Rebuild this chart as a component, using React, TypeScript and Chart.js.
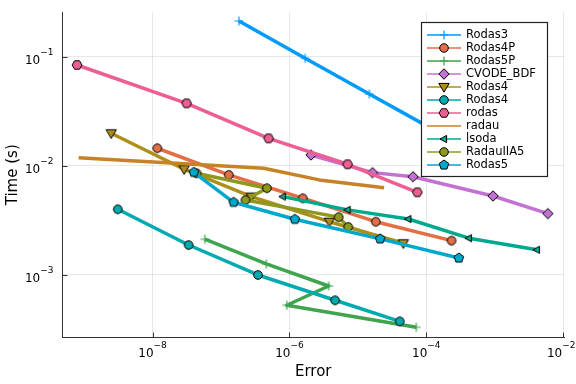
import React, { useEffect, useRef } from 'react';
import { Chart, registerables } from 'chart.js';

Chart.register(...registerables);

// ---------- data ----------
const seriesNames = ['Rodas3', 'Rodas4P', 'Rodas5P', 'CVODE_BDF', 'Rodas4', 'Rodas4', 'rodas', 'radau', 'lsoda', 'RadauIIA5', 'Rodas5'];

const rodas3Error = [1.83e-7, 1.70e-6, 1.47e-5, 1.29e-4];
const rodas3Time = [0.2126, 0.0967, 0.0455, 0.0213];
const rodas4pError = [1.175e-8, 1.30e-7, 1.57e-6, 1.83e-5, 2.34e-4];
const rodas4pTime = [0.01445, 0.00822, 0.00502, 0.00306, 0.00205];
const rodas5pError = [5.81e-8, 4.59e-7, 3.75e-6, 9.16e-7, 7.14e-5];
const rodas5pTime = [0.002113, 0.001253, 0.000787, 0.000524, 0.000329];
const cvodeError = [2.07e-6, 1.64e-5, 6.40e-5, 9.44e-4, 5.97e-3];
const cvodeTime = [0.01253, 0.00863, 0.00792, 0.00527, 0.00363];
const rodas4TriError = [2.49e-9, 2.90e-8, 2.78e-7, 3.84e-6, 4.62e-5];
const rodas4TriTime = [0.01982, 0.00927, 0.00520, 0.00306, 0.00194];
const rodas4CircError = [3.11e-9, 3.37e-8, 3.47e-7, 4.65e-6, 4.10e-5];
const rodas4CircTime = [0.00398, 0.00187, 0.000993, 0.000582, 0.000373];
const rodasError = [7.89e-10, 3.15e-8, 4.97e-7, 7.08e-6, 7.40e-5];
const rodasTime = [0.0839, 0.0373, 0.01782, 0.01030, 0.00570];
const radauError = [8.32e-10, 4.20e-7, 2.74e-6, 2.42e-5];
const radauTime = [0.01183, 0.00946, 0.00740, 0.00628];
const lsodaError = [8.02e-7, 7.08e-6, 5.47e-5, 4.19e-4, 4.13e-3];
const lsodaTime = [0.00520, 0.00393, 0.00324, 0.00216, 0.00169];
const radauIIA5Error = [4.40e-8, 4.69e-7, 2.28e-7, 5.24e-6, 7.24e-6];
const radauIIA5Time = [0.00851, 0.00621, 0.00484, 0.00337, 0.00274];
const rodas5Error = [4.02e-8, 1.53e-7, 1.20e-6, 2.12e-5, 2.99e-4];
const rodas5Time = [0.00869, 0.00461, 0.00322, 0.00213, 0.00142];

const seriesErrors = [rodas3Error, rodas4pError, rodas5pError, cvodeError, rodas4TriError, rodas4CircError, rodasError, radauError, lsodaError, radauIIA5Error, rodas5Error];
const seriesTimes = [rodas3Time, rodas4pTime, rodas5pTime, cvodeTime, rodas4TriTime, rodas4CircTime, rodasTime, radauTime, lsodaTime, radauIIA5Time, rodas5Time];

const xTickValues = [1e-8, 1e-6, 1e-4, 1e-2];
const xTickExponents = ['−8', '−6', '−4', '−2'];
const yTickValues = [1e-3, 1e-2, 1e-1];
const yTickExponents = ['−3', '−2', '−1'];
const tickBase = '10';

const xMin = 4.84e-10;
const xMax = 1.028e-2;
const yMin = 2.65e-4;
const yMax = 0.257;

// ---------- styles ----------
const seriesColors = ['#009AFA', '#E36F47', '#3EA44E', '#C371D2', '#AC8E18', '#00AAAE', '#ED5E93', '#C68225', '#00A98D', '#8E971E', '#00A8CB'];
const seriesMarkers = ['cross', 'circle', 'cross', 'diamond', 'dtriangle', 'circle', 'hexagon', 'none', 'ltriangle', 'circle', 'pentagon'];

const FONT = "'DejaVu Sans', sans-serif";
const AXIS_COLOR = '#333333';

function polygon(ctx: CanvasRenderingContext2D, cx: number, cy: number, n: number, r: number, rot: number) {
  for (let k = 0; k < n; k++) {
    const a = rot + (k * 2 * Math.PI) / n;
    const px = cx + r * Math.cos(a);
    const py = cy + r * Math.sin(a);
    if (k === 0) ctx.moveTo(px, py);
    else ctx.lineTo(px, py);
  }
  ctx.closePath();
}

function drawMarker(ctx: CanvasRenderingContext2D, shape: string, color: string, x: number, y: number) {
  if (shape === 'none') return;
  ctx.save();
  ctx.lineJoin = 'miter';
  if (shape === 'cross') {
    ctx.strokeStyle = color;
    ctx.lineWidth = 1.2;
    ctx.beginPath();
    ctx.moveTo(x - 4.5, y);
    ctx.lineTo(x + 4.5, y);
    ctx.moveTo(x, y - 4.5);
    ctx.lineTo(x, y + 4.5);
    ctx.stroke();
    ctx.restore();
    return;
  }
  ctx.fillStyle = color;
  ctx.strokeStyle = '#000000';
  ctx.lineWidth = 1;
  ctx.beginPath();
  switch (shape) {
    case 'circle':
      ctx.arc(x, y, 4.3, 0, Math.PI * 2);
      break;
    case 'hexagon':
      polygon(ctx, x, y, 6, 4.9, 0);
      break;
    case 'pentagon':
      polygon(ctx, x, y, 5, 5.0, -Math.PI / 2);
      break;
    case 'diamond':
      polygon(ctx, x, y, 4, 5.2, -Math.PI / 2);
      break;
    case 'dtriangle':
      ctx.moveTo(x - 5.2, y - 3.6);
      ctx.lineTo(x + 5.2, y - 3.6);
      ctx.lineTo(x, y + 5.2);
      ctx.closePath();
      break;
    case 'ltriangle':
      ctx.moveTo(x - 4, y);
      ctx.lineTo(x + 2.6, y - 3.6);
      ctx.lineTo(x + 2.6, y + 3.6);
      ctx.closePath();
      break;
  }
  ctx.fill();
  ctx.stroke();
  ctx.restore();
}

function markerCanvas(shape: string, color: string): HTMLCanvasElement {
  const c = document.createElement('canvas');
  c.width = 16;
  c.height = 16;
  const ctx = c.getContext('2d')!;
  drawMarker(ctx, shape, color, 8, 8);
  return c;
}

const BASE_FONT = `12px ${FONT}`;
const EXP_FONT = `9px ${FONT}`;

function drawPowerLabel(ctx: CanvasRenderingContext2D, exp: string, anchorX: number, baseY: number, align: 'center' | 'right', maxRight: number) {
  ctx.font = BASE_FONT;
  const wb = ctx.measureText(tickBase).width;
  ctx.font = EXP_FONT;
  const we = ctx.measureText(exp).width;
  const total = wb + we;
  let startX = align === 'center' ? anchorX - total / 2 : anchorX - total;
  if (startX + total > maxRight) startX = maxRight - total;
  ctx.textAlign = 'left';
  ctx.textBaseline = 'alphabetic';
  ctx.fillStyle = '#000000';
  ctx.font = BASE_FONT;
  ctx.fillText(tickBase, startX, baseY);
  ctx.font = EXP_FONT;
  ctx.fillText(exp, startX + wb, baseY - 8.5);
}

const overlayPlugin = {
  id: 'overlay',
  afterDatasetsDraw(chart: any) {
    const { ctx, chartArea, scales } = chart;
    const maxRight = chart.width - 0.5;
    ctx.save();
    // inward tick marks and tick labels
    ctx.strokeStyle = AXIS_COLOR;
    ctx.lineWidth = 1;
    xTickValues.forEach((v, i) => {
      const pv = scales.x.getPixelForValue(v);
      const px = Math.round(pv) + 0.5;
      ctx.strokeStyle = AXIS_COLOR;
      ctx.beginPath();
      ctx.moveTo(px, chartArea.bottom);
      ctx.lineTo(px, chartArea.bottom - 5);
      ctx.stroke();
      drawPowerLabel(ctx, xTickExponents[i], pv, chartArea.bottom + 19, 'center', maxRight);
    });
    yTickValues.forEach((v, i) => {
      const pv = scales.y.getPixelForValue(v);
      const py = Math.round(pv) + 0.5;
      ctx.strokeStyle = AXIS_COLOR;
      ctx.beginPath();
      ctx.moveTo(chartArea.left, py);
      ctx.lineTo(chartArea.left + 5, py);
      ctx.stroke();
      drawPowerLabel(ctx, yTickExponents[i], chartArea.left - 9, pv + 7.3, 'right', maxRight);
    });

    // legend
    const lx = Math.round(chartArea.right - 143) + 0.5;
    const ly = Math.round(chartArea.top + 10) + 0.5;
    const lw = 126;
    const lh = 154;
    ctx.fillStyle = '#ffffff';
    ctx.fillRect(lx, ly, lw, lh);
    ctx.strokeStyle = '#222222';
    ctx.lineWidth = 1.2;
    ctx.strokeRect(lx, ly, lw, lh);
    ctx.font = `11.5px ${FONT}`;
    ctx.textBaseline = 'middle';
    ctx.textAlign = 'left';
    seriesNames.forEach((name, i) => {
      const ry = ly + 12.5 + 13 * i;
      ctx.strokeStyle = seriesColors[i];
      ctx.lineWidth = 1.5;
      ctx.beginPath();
      ctx.moveTo(lx + 5.5, ry);
      ctx.lineTo(lx + 39.5, ry);
      ctx.stroke();
      drawMarker(ctx, seriesMarkers[i], seriesColors[i], lx + 22.5, ry);
      ctx.fillStyle = '#000000';
      ctx.fillText(name, lx + 44.5, ry + 0.5);
    });
    ctx.restore();
  },
};

export default function App() {
  const ref = useRef<HTMLCanvasElement>(null);

  useEffect(() => {
    document.body.style.margin = '0';
    const canvas = ref.current;
    if (!canvas) return;
    const n = seriesNames.length;
    const datasets = seriesNames.map((name, i) => ({
      label: name,
      data: seriesErrors[i].map((e, j) => ({ x: e, y: seriesTimes[i][j] })),
      showLine: true,
      borderColor: seriesColors[i],
      backgroundColor: seriesColors[i],
      borderWidth: 3.5,
      borderJoinStyle: 'round' as const,
      tension: 0,
      pointStyle: seriesMarkers[i] === 'none' ? 'circle' : markerCanvas(seriesMarkers[i], seriesColors[i]),
      pointRadius: seriesMarkers[i] === 'none' ? 0 : 5,
      pointHoverRadius: seriesMarkers[i] === 'none' ? 0 : 5,
      order: n - i,
    }));

    const chart = new Chart(canvas, {
      type: 'scatter',
      data: { datasets: datasets as any },
      options: {
        animation: false,
        responsive: false,
        events: [],
        layout: { padding: { top: 12, right: 12, left: 0, bottom: 0 } },
        plugins: {
          legend: { display: false },
          tooltip: { enabled: false },
        },
        scales: {
          x: {
            type: 'logarithmic',
            min: xMin,
            max: xMax,
            afterBuildTicks: (scale: any) => {
              scale.ticks = xTickValues.map((v) => ({ value: v }));
            },
            afterFit: (scale: any) => {
              scale.height = 46.5;
            },
            ticks: { display: false },
            grid: {
              color: 'rgba(0,0,0,0.09)',
              lineWidth: 1,
              drawTicks: false,
            },
            border: { display: true, color: AXIS_COLOR, width: 1 },
            title: {
              display: true,
              text: 'Error',
              color: '#000000',
              font: { family: FONT, size: 15 },
              padding: { top: 0, bottom: 3 },
            },
          },
          y: {
            type: 'logarithmic',
            min: yMin,
            max: yMax,
            afterBuildTicks: (scale: any) => {
              scale.ticks = yTickValues.map((v) => ({ value: v }));
            },
            afterFit: (scale: any) => {
              scale.width = 62.5;
            },
            ticks: { display: false },
            grid: {
              color: 'rgba(0,0,0,0.09)',
              lineWidth: 1,
              drawTicks: false,
            },
            border: { display: true, color: AXIS_COLOR, width: 1 },
            title: {
              display: true,
              text: 'Time (s)',
              color: '#000000',
              font: { family: FONT, size: 15 },
              padding: { top: 4, bottom: 4 },
            },
          },
        },
      },
      plugins: [overlayPlugin],
    });

    return () => {
      chart.destroy();
    };
  }, []);

  return (
    <div style={{ position: 'absolute', left: 0, top: 0, width: 576, height: 384, background: '#ffffff' }}>
      <canvas ref={ref} width={576} height={384} style={{ display: 'block', width: 576, height: 384 }} />
    </div>
  );
}
